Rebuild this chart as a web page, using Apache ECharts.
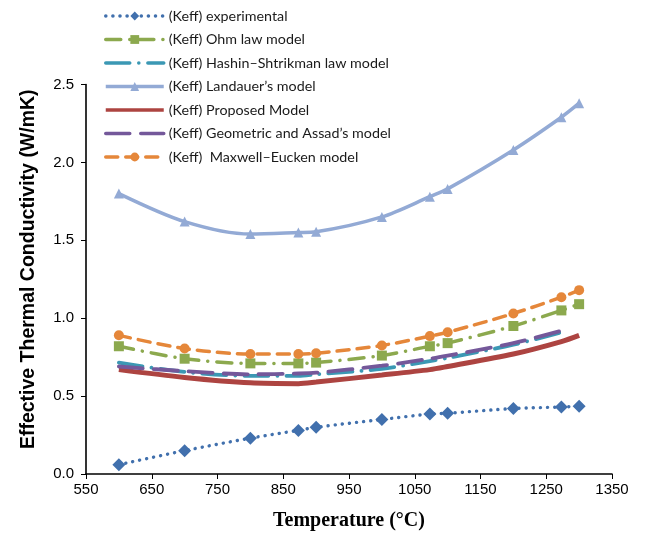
<!DOCTYPE html>
<html>
<head>
<meta charset="utf-8">
<script src="https://cdn.jsdelivr.net/npm/echarts@6/dist/echarts.min.js"></script>
<style>
  html, body { margin: 0; padding: 0; background: #fff; }
  #chart { width: 646px; height: 536px; }
</style>
</head>
<body>
<div id="chart"></div>
<script>
// Temperatures (°C) at which each model was evaluated
const temps = [600, 700, 800, 873, 900, 1000, 1073, 1100, 1200, 1273, 1300];

// Effective thermal conductivity, W/mK
const experimental = [0.06, 0.15, 0.23, 0.28, 0.30, 0.35, 0.385, 0.39, 0.42, 0.43, 0.435];
const ohmLaw       = [0.82, 0.74, 0.71, 0.71, 0.715, 0.76, 0.82, 0.84, 0.95, 1.05, 1.09];
const hashin       = [0.715, 0.655, 0.63, 0.63, 0.64, 0.675, 0.725, 0.745, 0.83, 0.91];
const landauer     = [1.80, 1.62, 1.54, 1.55, 1.555, 1.65, 1.78, 1.83, 2.08, 2.29, 2.38];
const proposed     = [0.67, 0.62, 0.585, 0.58, 0.59, 0.635, 0.67, 0.69, 0.77, 0.85, 0.89];
const geometric    = [0.69, 0.66, 0.64, 0.645, 0.65, 0.695, 0.74, 0.76, 0.84, 0.92];
const maxwell      = [0.89, 0.805, 0.77, 0.77, 0.775, 0.825, 0.885, 0.91, 1.03, 1.135, 1.18];

const names = [
  '(Keff) experimental',
  '(Keff) Ohm law model',
  '(Keff) Hashin\u2013Shtrikman law model',
  '(Keff) Landauer\u2019s model',
  '(Keff) Proposed Model',
  '(Keff) Geometric and Assad\u2019s model',
  '(Keff)  Maxwell\u2013Eucken model'
];

const pairs = vals => vals.map((v, i) => [temps[i], v]);

const chart = echarts.init(document.getElementById('chart'), null, { renderer: 'canvas' });

const base = { type: 'line', smooth: 0.3, z: 2 };
// curves drawn without point markers keep a transparent item colour so the legend shows only the line
const noMarker = { symbol: 'none', showSymbol: false, itemStyle: { color: 'rgba(0,0,0,0)' } };

chart.setOption({
  animation: false,
  backgroundColor: '#ffffff',
  grid: { left: 86, right: 34, top: 84.5, bottom: 58.5, containLabel: false },
  legend: {
    orient: 'vertical',
    left: 99,
    top: 4,
    itemWidth: 58,
    itemHeight: 11,
    itemGap: 9.5,
    lineStyle: { width: 3.5 },
    textStyle: { fontFamily: 'Lato, "Open Sans", sans-serif', fontSize: 14.3, lineHeight: 14, color: '#1a1a1a' },
    data: names
  },
  xAxis: {
    type: 'value',
    min: 550, max: 1350, interval: 100,
    name: 'Temperature (\u00B0C)',
    nameLocation: 'middle',
    nameGap: 37,
    nameTextStyle: { fontFamily: '"Liberation Serif", "DejaVu Serif", serif', fontWeight: 'bold', fontSize: 20, color: '#000' },
    axisLine: { lineStyle: { color: '#000', width: 1.6 } },
    axisTick: { show: true, inside: false, length: 5, lineStyle: { color: '#000', width: 1 } },
    axisLabel: { margin: 8, fontFamily: '"Liberation Sans", Arial, sans-serif', fontSize: 15, color: '#000',
                 formatter: v => String(v) },
    splitLine: { show: false }
  },
  yAxis: {
    type: 'value',
    min: 0, max: 2.5, interval: 0.5,
    name: 'Effective Thermal Conductivity (W/mK)',
    nameLocation: 'middle',
    nameGap: 47,
    nameTextStyle: { fontFamily: '"Liberation Sans", Arial, sans-serif', fontWeight: 'bold', fontSize: 19.5, color: '#000',
                     padding: [0, 0, 0, 20] },
    axisLine: { show: true, lineStyle: { color: '#000', width: 1.6 } },
    axisTick: { show: true, inside: false, length: 5, lineStyle: { color: '#000', width: 1 } },
    axisLabel: { margin: 12, fontFamily: '"Liberation Sans", Arial, sans-serif', fontSize: 15, color: '#000',
                 formatter: v => v.toFixed(1) },
    splitLine: { show: false }
  },
  series: [
    Object.assign({}, base, {
      name: names[0], data: pairs(experimental),
      symbol: 'diamond', symbolSize: 13,
      itemStyle: { color: '#4170AD' },
      lineStyle: { color: '#4170AD', width: 3.4, type: [0.1, 7], cap: 'round' }
    }),
    Object.assign({}, base, {
      name: names[1], data: pairs(ohmLaw),
      symbol: 'rect', symbolSize: 10,
      itemStyle: { color: '#8CA94E' },
      lineStyle: { color: '#8CA94E', width: 3.5, type: [15, 9, 0.1, 9], cap: 'round' }
    }),
    Object.assign({}, base, noMarker, {
      name: names[2], data: pairs(hashin),
      lineStyle: { color: '#3B98B4', width: 3.8, type: [24, 9, 0.1, 9], cap: 'round' }
    }),
    Object.assign({}, base, {
      name: names[3], data: pairs(landauer),
      symbol: 'triangle', symbolSize: 10,
      itemStyle: { color: '#93AAD5' },
      lineStyle: { color: '#93AAD5', width: 3.5 }
    }),
    Object.assign({}, base, noMarker, {
      name: names[4], data: pairs(proposed),
      lineStyle: { color: '#AD4441', width: 5 }
    }),
    Object.assign({}, base, noMarker, {
      name: names[5], data: pairs(geometric),
      lineStyle: { color: '#74589A', width: 3.8, type: [24, 11], cap: 'round' }
    }),
    Object.assign({}, base, {
      name: names[6], data: pairs(maxwell),
      symbol: 'circle', symbolSize: 10,
      itemStyle: { color: '#E5873A' },
      lineStyle: { color: '#E5873A', width: 3.5, type: [12, 8], cap: 'round' }
    })
  ]
});
</script>
</body>
</html>
